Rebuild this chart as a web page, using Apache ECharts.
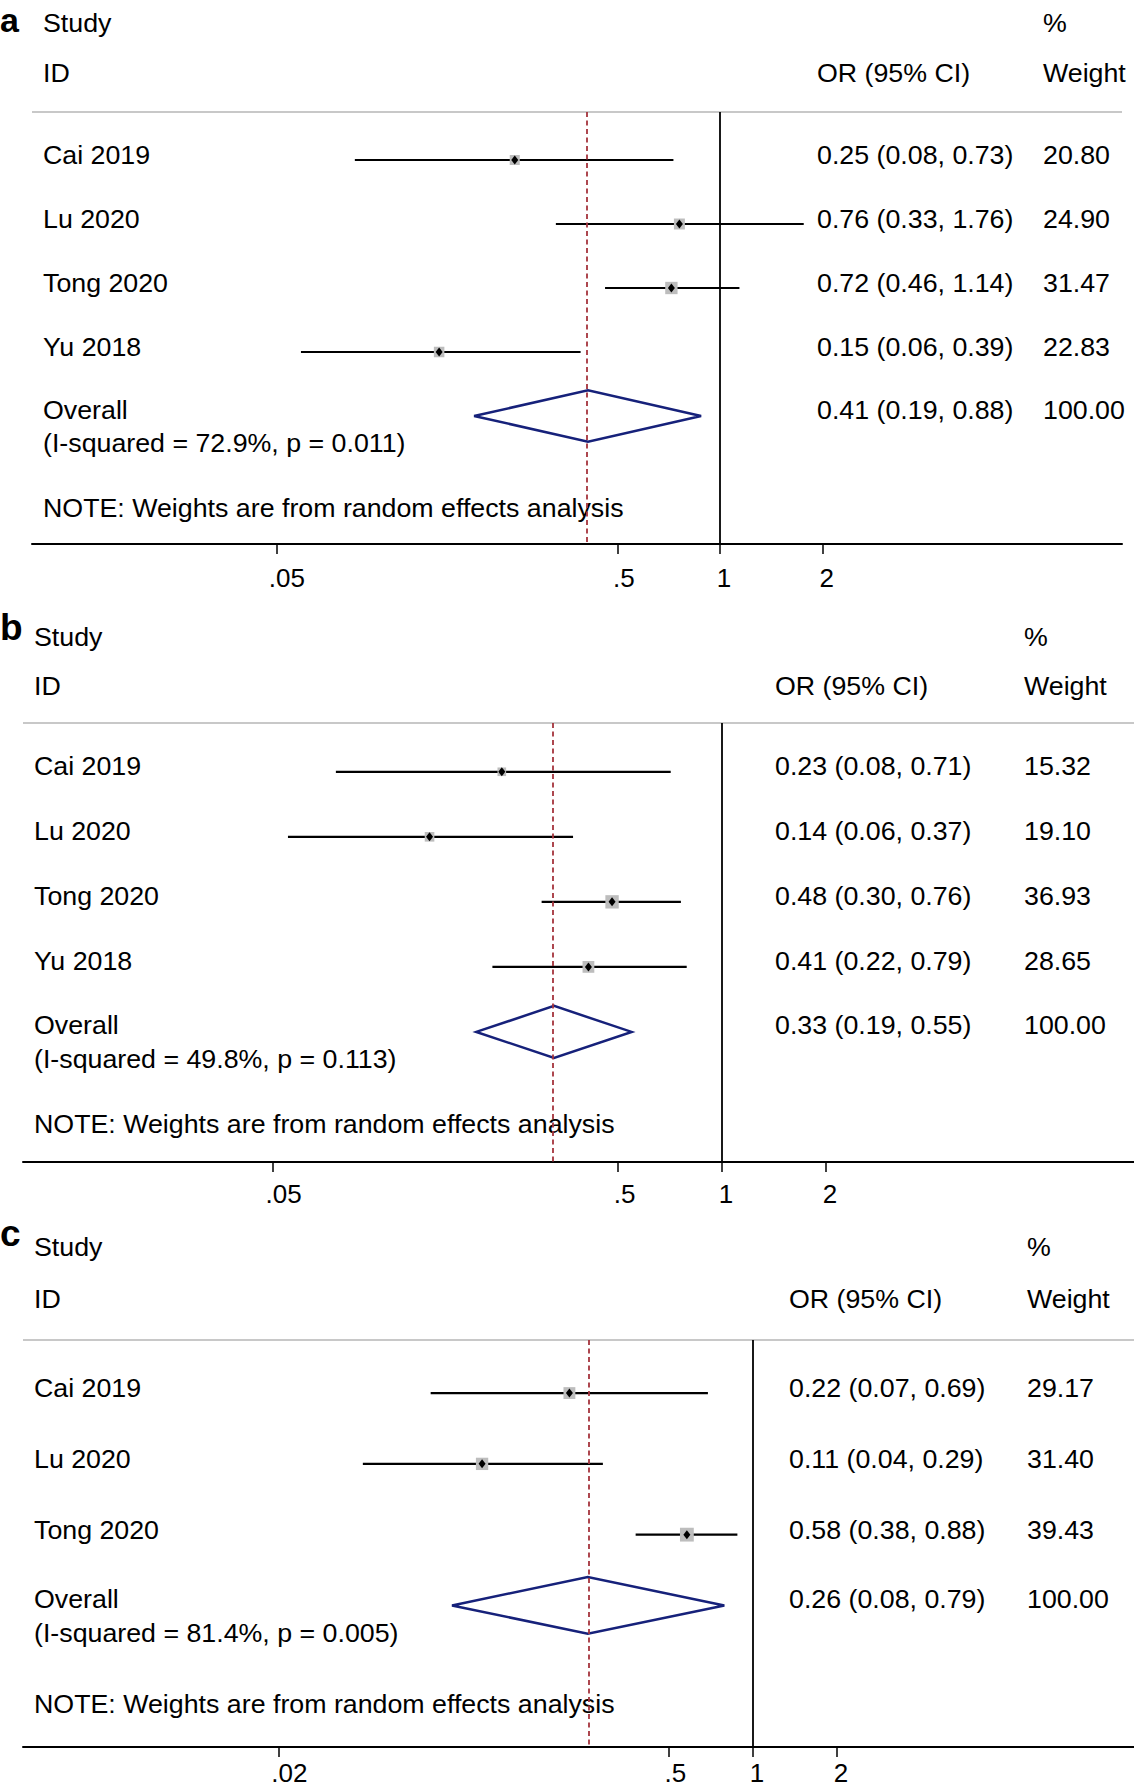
<!DOCTYPE html>
<html><head><meta charset="utf-8">
<script src="https://cdn.jsdelivr.net/npm/echarts@6/dist/echarts.min.js"></script>
<style>html,body{margin:0;padding:0;background:#fff}#c{width:1134px;height:1790px}</style>
</head><body><div id="c"></div>
<script>
// ---------- data: panel a ----------
const studiesA = ['Cai 2019', 'Lu 2020', 'Tong 2020', 'Yu 2018'];
const orA = [0.25, 0.76, 0.72, 0.15];
const lowA = [0.0849, 0.33, 0.46, 0.059];
const highA = [0.73, 1.76, 1.14, 0.39];
const weightA = [20.80, 24.90, 31.47, 22.83];
const overallA = [0.41, 0.19, 0.88];   // OR, low, high
const hetA = [72.9, 0.011];            // I-squared %, p
const ticksA = [0.05, 0.5, 1, 2];
const tickLabelsA = ['.05', '.5', '1', '2'];

// ---------- data: panel b ----------
const studiesB = ['Cai 2019', 'Lu 2020', 'Tong 2020', 'Yu 2018'];
const orB = [0.23, 0.142, 0.48, 0.41];
const lowB = [0.076, 0.0552, 0.30, 0.216];
const highB = [0.71, 0.37, 0.76, 0.79];
const weightB = [15.32, 19.10, 36.93, 28.65];
const overallB = [0.326, 0.194, 0.547];
const hetB = [49.8, 0.113];
const ticksB = [0.05, 0.5, 1, 2];
const tickLabelsB = ['.05', '.5', '1', '2'];

// ---------- data: panel c ----------
const studiesC = ['Cai 2019', 'Lu 2020', 'Tong 2020'];
const orC = [0.22, 0.107, 0.58];
const lowC = [0.07, 0.04, 0.38];
const highC = [0.69, 0.29, 0.88];
const weightC = [29.17, 31.40, 39.43];
const overallC = [0.256, 0.0835, 0.79];
const hetC = [81.4, 0.005];
const ticksC = [0.02, 0.5, 1, 2];
const tickLabelsC = ['.02', '.5', '1', '2'];

const noteText = 'NOTE: Weights are from random effects analysis';

// ---------- layout (positions / styles only) ----------
const FONT = '"Liberation Sans", Arial, Helvetica, sans-serif';
const FS = 26;
const SX = 1.03;
const layouts = [
  {label: 'a', labelSize: 34, labelOff: -92.5, left: 32, width: 1090, top: 112, height: 432, xMin: -2.018, xMax: 1.179, yMax: 6,
   colStudy: 11, colOR: 785, colW: 1011, headStudy: -89, headID: -39, rowOff: -5, ovOff: -6, hetOff: 27, noteOff: 92, labelMargin: 21},
  {label: 'b', labelSize: 37, labelOff: -96, left: 23, width: 1111, top: 723, height: 439, xMin: -2.026, xMax: 1.194, yMax: 6,
   colStudy: 11, colOR: 752, colW: 1001, headStudy: -86, headID: -37, rowOff: -6, ovOff: -7, hetOff: 27, noteOff: 92, labelMargin: 19},
  {label: 'c', labelSize: 37, labelOff: -107, left: 23, width: 1111, top: 1340, height: 407, xMin: -2.616, xMax: 1.366, yMax: 5,
   colStudy: 11, colOR: 766, colW: 1004, headStudy: -93, headID: -41, rowOff: -5, ovOff: -6, hetOff: 28, noteOff: 99, labelMargin: 13}
];
const panels = [
  {studies: studiesA, or: orA, low: lowA, high: highA, weight: weightA, overall: overallA, het: hetA, ticks: ticksA, tickLabels: tickLabelsA},
  {studies: studiesB, or: orB, low: lowB, high: highB, weight: weightB, overall: overallB, het: hetB, ticks: ticksB, tickLabels: tickLabelsB},
  {studies: studiesC, or: orC, low: lowC, high: highC, weight: weightC, overall: overallC, het: hetC, ticks: ticksC, tickLabels: tickLabelsC}
];

const measureCtx = document.createElement('canvas').getContext('2d');
measureCtx.font = FS + 'px ' + FONT;

function fmt(v) { return v.toFixed(2); }
function orText(o, l, h) { return fmt(o) + ' (' + fmt(l) + ', ' + fmt(h) + ')'; }
function txt(x, y, s, size, bold) {
  return {type: 'text', x: x, y: y, scaleX: bold ? 1 : SX,
    style: {text: s, fill: '#000', font: (bold ? 'bold ' : '') + (size || FS) + 'px ' + FONT,
    align: 'left', verticalAlign: 'middle'}};
}

const grids = [], xAxes = [], yAxes = [], series = [];

panels.forEach(function (D, k) {
  const P = layouts[k];
  const n = D.studies.length;
  const tickPos = D.ticks.map(function (t) { return Math.log10(t); });
  const rich = {};
  D.tickLabels.forEach(function (lab, i) {
    const w = measureCtx.measureText(lab).width;
    rich['p' + i] = {fontSize: FS, fontFamily: FONT, color: '#000', lineHeight: FS, padding: [0, 0, 0, Math.round(0.58 * w)]};
  });
  grids.push({left: P.left, top: P.top, width: P.width, height: P.height, containLabel: false});
  xAxes.push({
    gridIndex: k, type: 'value', min: P.xMin, max: P.xMax,
    axisLine: {show: true, onZero: false, lineStyle: {color: '#000', width: 2}},
    axisTick: {show: true, customValues: tickPos, length: 10, lineStyle: {color: '#000', width: 1.5}},
    axisLabel: {show: true, customValues: tickPos, margin: P.labelMargin, fontSize: FS, fontFamily: FONT, color: '#000',
      rich: rich,
      formatter: function (v) {
        let best = 0;
        tickPos.forEach(function (t, i) { if (Math.abs(t - v) < Math.abs(tickPos[best] - v)) best = i; });
        return '{p' + best + '|' + D.tickLabels[best] + '}';
      }},
    splitLine: {show: false}
  });
  yAxes.push({gridIndex: k, type: 'value', inverse: true, min: -0.75, max: P.yMax, show: false});

  const ciData = D.studies.map(function (s, i) {
    return [Math.log10(D.low[i]), Math.log10(D.high[i]), Math.log10(D.or[i]), i, D.weight[i]];
  });
  // study estimates + reference lines
  series.push({
    type: 'custom', xAxisIndex: k, yAxisIndex: k, data: ciData, encode: {x: [0, 1, 2], y: 3}, z: 3,
    renderItem: function (params, api) {
      const row = api.value(3);
      const lo = api.coord([api.value(0), row]);
      const hi = api.coord([api.value(1), row]);
      const pt = api.coord([api.value(2), row]);
      const side = 2.2 * Math.sqrt(api.value(4));
      return {type: 'group', children: [
        {type: 'line', shape: {x1: lo[0], y1: lo[1], x2: hi[0], y2: hi[1]}, style: {stroke: '#000', lineWidth: 2.2}},
        {type: 'rect', shape: {x: pt[0] - side / 2, y: pt[1] - side / 2, width: side, height: side}, style: {fill: '#bdbdbd'}},
        {type: 'polygon', shape: {points: [[pt[0] - 3.5, pt[1]], [pt[0], pt[1] - 4.5], [pt[0] + 3.5, pt[1]], [pt[0], pt[1] + 4.5]]}, style: {fill: '#000'}}
      ]};
    },
    markLine: {
      silent: true, symbol: ['none', 'none'], label: {show: false}, animation: false,
      data: [
        {xAxis: 0, lineStyle: {color: '#000', width: 1.8, type: 'solid'}},
        {xAxis: Math.log10(D.overall[0]), lineStyle: {color: '#a5333c', width: 1.8, type: [5, 3.5]}}
      ]
    }
  });
  // overall diamond
  series.push({
    type: 'custom', xAxisIndex: k, yAxisIndex: k, z: 3,
    data: [[Math.log10(D.overall[1]), Math.log10(D.overall[2]), Math.log10(D.overall[0]), n]],
    encode: {x: [0, 1, 2], y: 3},
    renderItem: function (params, api) {
      const row = api.value(3);
      const l = api.coord([api.value(0), row]);
      const r = api.coord([api.value(1), row]);
      const t = api.coord([api.value(2), row - 0.4]);
      const b = api.coord([api.value(2), row + 0.4]);
      return {type: 'polygon', shape: {points: [l, t, r, b]}, style: {fill: 'none', stroke: '#16217a', lineWidth: 2.5, lineJoin: 'miter'}};
    }
  });
  // texts
  const rows = [];
  for (let i = 0; i <= n; i++) rows.push([0, i]);
  const totalW = D.weight.reduce(function (a, b) { return a + b; }, 0);
  series.push({
    type: 'custom', xAxisIndex: k, yAxisIndex: k, data: rows, encode: {x: 0, y: 1}, z: 4, clip: false,
    renderItem: function (params, api) {
      const i = params.dataIndex;
      const cs = params.coordSys;
      const y = api.coord([0, api.value(1)])[1];
      const x0 = cs.x;
      if (i < n) {
        return {type: 'group', children: [
          txt(x0 + P.colStudy, y + P.rowOff, D.studies[i]),
          txt(x0 + P.colOR, y + P.rowOff, orText(D.or[i], D.low[i], D.high[i])),
          txt(x0 + P.colW, y + P.rowOff, fmt(D.weight[i]))
        ]};
      }
      return {type: 'group', children: [
        {type: 'line', shape: {x1: cs.x, y1: cs.y, x2: cs.x + cs.width, y2: cs.y}, style: {stroke: '#c8c8c8', lineWidth: 2}},
        txt(0, cs.y + P.labelOff, P.label, P.labelSize, true),
        txt(x0 + P.colStudy, cs.y + P.headStudy, 'Study'),
        txt(x0 + P.colStudy, cs.y + P.headID, 'ID'),
        txt(x0 + P.colOR, cs.y + P.headID, 'OR (95% CI)'),
        txt(x0 + P.colW, cs.y + P.headStudy, '%'),
        txt(x0 + P.colW, cs.y + P.headID, 'Weight'),
        txt(x0 + P.colStudy, y + P.ovOff, 'Overall'),
        txt(x0 + P.colOR, y + P.ovOff, orText(D.overall[0], D.overall[1], D.overall[2])),
        txt(x0 + P.colW, y + P.ovOff, fmt(totalW)),
        txt(x0 + P.colStudy, y + P.hetOff, '(I-squared = ' + D.het[0].toFixed(1) + '%, p = ' + D.het[1].toFixed(3) + ')'),
        txt(x0 + P.colStudy, y + P.noteOff, noteText)
      ]};
    }
  });
});

const chart = echarts.init(document.getElementById('c'), null, {renderer: 'svg', width: 1134, height: 1790});
chart.setOption({
  animation: false,
  backgroundColor: '#fff',
  grid: grids, xAxis: xAxes, yAxis: yAxes, series: series
});
</script></body></html>
